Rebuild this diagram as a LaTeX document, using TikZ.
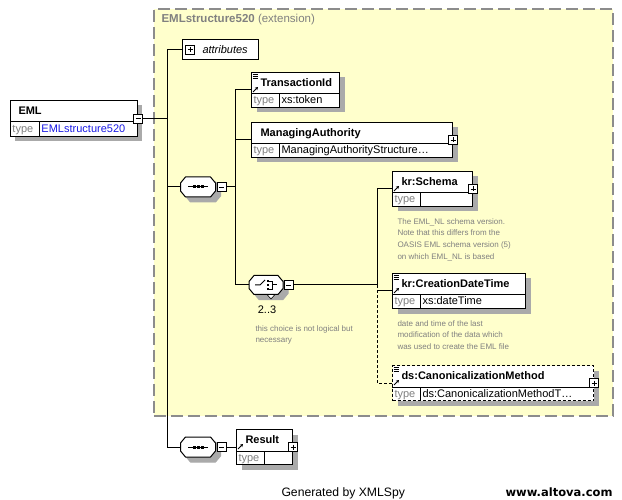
\documentclass[tikz,border=0pt]{standalone}
\usepackage{fontspec}
\setmainfont{Liberation Sans}
\newfontfamily\webfont{DejaVu Sans}
\usetikzlibrary{arrows.meta, positioning, calc}
\definecolor{xyellow}{HTML}{FFFFCC}
\definecolor{xframe}{HTML}{8C8C8C}
\definecolor{xgrey}{HTML}{808080}
\definecolor{boxgrey}{RGB}{170,170,170}
\definecolor{xblue}{HTML}{1A1AE6}
\tikzset{
  every picture/.style={line width=1pt},
  backdrop/.style={fill=boxgrey, draw=none, anchor=north west, minimum height=35pt, inner sep=0pt},
  elem/.style={draw, fill=white, anchor=north west, minimum height=35pt, inner sep=0pt},
  ename/.style={anchor=base west, inner sep=0pt, font=\fontsize{11}{13}\selectfont\bfseries},
  tlabel/.style={anchor=base west, inner sep=0pt, text=xgrey, font=\fontsize{11}{13}\selectfont},
  tvalue/.style={anchor=base west, inner sep=0pt, font=\fontsize{11}{13}\selectfont},
  note/.style={anchor=north west, inner sep=0pt, align=left, text=xgrey, font=\fontsize{8}{11.7}\selectfont},
  pmbox/.style={draw, fill=white, minimum size=9pt, inner sep=0pt, line width=0.8pt},
  plusbox/.style={pmbox, path picture={
    \draw[line width=0.8pt] ([xshift=2pt]path picture bounding box.west) -- ([xshift=-2pt]path picture bounding box.east)
      ([yshift=-2pt]path picture bounding box.north) -- ([yshift=2pt]path picture bounding box.south);}},
  minusbox/.style={pmbox, path picture={
    \draw[line width=0.8pt] ([xshift=2pt]path picture bounding box.west) -- ([xshift=-2pt]path picture bounding box.east);}},
  compositor/.style={minimum width=34pt, minimum height=19pt, inner sep=0pt},
  optline/.style={dash pattern=on 3pt off 2pt},
}

\begin{document}
\begin{tikzpicture}[x=1pt, y=-1pt]
  \useasboundingbox (0,0) rectangle (622,500);
  % extension frame
  \node[draw=xframe, fill=xyellow, line width=1.6pt, dash pattern=on 12pt off 5pt, anchor=north west, inner sep=0pt,
    minimum width=459pt, minimum height=407pt] (ext) at (153,8) {};
  \node[anchor=base west, inner sep=0pt, text=xgrey, font=\fontsize{11.5}{13}\selectfont] (ext-title) at (161,23) {\textbf{EMLstructure520} (extension)};

  % root element
  \fill[boxgrey] (15,105) rectangle ++(127,36);
  \node[elem, minimum width=127pt, minimum height=36pt] (eml) at (10,100) {};
  \draw ($(eml.north west)+(0,22)$) -- ($(eml.north east)+(0,22)$);
  \draw ($(eml.north west)+(29,22)$) -- ($(eml.south west)+(29,0)$);
  \node[ename] (eml-n) at ($(eml.north west)+(8,14.5)$) {EML};
  \node[tlabel] (eml-t) at ($(eml.south west)+(2,-4)$) {type};
  \node[tvalue, text=xblue] (eml-v) at ($(eml.south west)+(31,-4)$) {EMLstructure520};
  \node[minusbox] (eml-pm) at (eml.east) {};

  % attributes
  \node[draw, fill=white, anchor=north west, minimum width=76pt, minimum height=20pt, inner sep=0pt] (attr) at (182,39) {};
  \node[plusbox] (attr-pm) at ($(attr.west)+(8,0)$) {};
  \node[anchor=base west, inner sep=0pt, font=\fontsize{11}{13}\selectfont\itshape] (attr-t) at ($(attr.west)+(20,4.5)$) {attributes};

  % child elements
  \foreach \el/\x/\y/\w/\nm/\ty/\bd in {
      tid/251/72/88/TransactionId/xs:token/solid,
      ma/251/122/201/ManagingAuthority/ManagingAuthorityStructure…/solid,
      schema/392/171/80/kr:Schema//solid,
      cdt/392/273/133/kr:CreationDateTime/xs:dateTime/solid,
      canon/392/365/201/ds:CanonicalizationMethod/ds:CanonicalizationMethodT…/optline,
      result/236/429/56/Result//solid} {
    \node[backdrop, minimum width=\w pt] (\el-sh) at (\x+5,\y+5) {};
    \node[elem, \bd, minimum width=\w pt] (\el) at (\x,\y) {};
    \draw ($(\el.north west)+(0,22)$) -- ($(\el.north east)+(0,22)$);
    \draw ($(\el.north west)+(28,22)$) -- ($(\el.south west)+(28,0)$);
    \node[ename] (\el-n) at ($(\el.north west)+(9,14.5)$) {\nm};
    \node[tlabel] (\el-t) at ($(\el.south west)+(2,-4)$) {type};
    \node[tvalue] (\el-v) at ($(\el.south west)+(30,-4)$) {\ty};
  }
  \foreach \el in {ma, schema, canon, result}
    \node[plusbox] (\el-pm) at (\el.east) {};
  % documentation and reference marks
  \foreach \el in {tid, cdt, canon}
    \foreach \k in {0,2,4}
      \draw[line width=0.6pt] ($(\el.north west)+(1.5,2.5+\k)$) -- ++(5,0);
  \foreach \el in {tid, schema, cdt, canon, result}
    \draw[line width=0.9pt, -{Stealth[length=3pt, width=3.5pt]}] ($(\el.north west)+(2,20)$) -- ++(5,-5);

  % compositors: sequence (seqA, seqB) and choice (ch)
  \node[compositor] (seqA) at (198,187) {};
  \node[compositor] (seqB) at (198,447) {};
  \node[compositor, minimum width=33pt, minimum height=18pt] (ch) at (266,285) {};
  \foreach \s in {seqA, seqB, ch}
    \foreach \d/\c/\dc in {5/boxgrey/boxgrey, 0/white/black}
      \filldraw[fill=\c, draw=\dc] ($(\s.north west)+(5+\d,\d)$) -- ($(\s.north east)+(-5+\d,\d)$)
        -- ($(\s.north east)+(\d,6+\d)$) -- ($(\s.south east)+(\d,-6+\d)$)
        -- ($(\s.south east)+(-5+\d,\d)$) -- ($(\s.south west)+(5+\d,\d)$)
        -- ($(\s.south west)+(\d,-6+\d)$) -- ($(\s.north west)+(\d,6+\d)$) -- cycle;
  \draw[fill=white, line width=0.6pt] ($(ch.south)+(1,0)$) -- ++(8,0) -- ++(-4,4.5) -- cycle;
  \node[minusbox, right=1pt of seqA] (seqA-pm) {};
  \node[minusbox, right=1pt of seqB] (seqB-pm) {};
  \node[minusbox, right=1pt of ch] (ch-pm) {};
  \foreach \s in {seqA, seqB} {
    \draw ([xshift=-10pt]\s.center) -- ([xshift=10pt]\s.center);
    \foreach \k in {-4,0,4}
      \fill ([xshift=\k pt]\s.center) +(-1.5,-1.5) rectangle +(1.5,1.5);
  }
  \draw (ch.center) ++(-11,0) -- ++(5,0) -- ++(5,-5);
  \foreach \k in {-4,0,4}
    \fill (ch.center) ++(2,\k) +(-1.2,-1.2) rectangle +(1.2,1.2);
  \draw[line width=0.8pt] (ch.center) ++(3,-4) -- ++(3,0) -- ++(0,8) -- ++(-3,0);
  \draw (ch.center) ++(6,0) -- ++(5,0);
  \node[tvalue, anchor=base] (ch-occ) at ($(ch.south)+(1,19)$) {2..3};

  % notes
  \node[note] (schema-doc) at (397,218) {The EML\_NL schema version.\\Note that this differs from the\\OASIS EML schema version (5)\\on which EML\_NL is based};
  \node[note] (cdt-doc) at (397,320) {date and time of the last\\modification of the data which\\was used to create the EML file};
  \node[note] (ch-doc) at (255,325) {this choice is not logical but\\necessary};

  % connectors
  \coordinate (busA) at (167,0);
  \coordinate (busB) at (235,0);
  \coordinate (busC) at (377,0);
  \draw (eml-pm.east) -- (busA |- eml-pm.east);
  \draw (busA |- attr.west) -- (attr.west);
  \draw (busA |- attr.west) -- (busA |- seqB.west) -- (seqB.west);
  \draw (busA |- seqA.west) -- (seqA.west);
  \draw (seqA-pm.east) -- (busB |- seqA-pm.east);
  \draw (busB |- tid.west) -- (tid.west);
  \draw (busB |- tid.west) -- (busB |- ch.west) -- (ch.west);
  \draw (busB |- ma.west) -- (ma.west);
  \draw (ch-pm.east) -- (busC |- ch-pm.east);
  \draw (busC |- schema.west) -- (busC |- ch-pm.east);
  \draw (busC |- schema.west) -- (schema.west);
  \draw (busC |- cdt.west) -- (cdt.west);
  \draw[optline] (busC |- ch-pm.east) -- (busC |- canon.west) -- (canon.west);
  \draw (seqB-pm.east) -- (result.west);

  % footer
  \node[anchor=base west, inner sep=0pt, font=\fontsize{12.2}{14}\selectfont] (gen) at (281,496) {Generated by XMLSpy};
  \node[anchor=base east, inner sep=0pt, font=\webfont\fontsize{11.5}{14}\selectfont\bfseries] (web) at (613,496) {www.altova.com};
\end{tikzpicture}
\end{document}
